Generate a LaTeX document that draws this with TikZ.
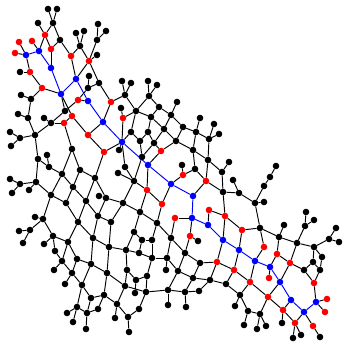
\documentclass[tikz,border=0pt]{standalone}
\pgfdeclarelayer{edges}
\pgfsetlayers{edges,main}
\tikzset{
  kn/.style={circle,fill=black,draw=none,minimum size=6.6pt,inner sep=0pt},
  rn/.style={circle,fill=red,draw=none,minimum size=6.6pt,inner sep=0pt},
  bn/.style={circle,fill=blue,draw=none,minimum size=6.6pt,inner sep=0pt},
  ke/.style={draw=black,line width=0.95pt},
  be/.style={draw=blue,line width=0.95pt}
}
\begin{document}
\begin{tikzpicture}[x=1pt,y=-1pt]
\useasboundingbox (0,0) rectangle (343,345);
% black nodes
\foreach \x/\y in {48/9,57/9,53/23,38/23,60/40,76/33,84/31,80/46,97/40,98/24,106/31,97/55,20/72,89/76,88/88,99/83,31/99,21/95,18/114,65/111,28/118,44/118,51/123,35/135,20/138,10/132,11/146,
122/81,131/83,125/95,148/81,157/85,149/96,136/111,159/107,177/102,171/115,151/117,121/108,164/129,183/127,131/132,148/132,200/118,214/124,219/134,196/132,209/139,140/141,176/141,154/143,193/150,142/157,119/150,208/160,229/162,125/167,195/169,182/165,222/172,118/173,134/181,
38/159,47/155,49/167,72/149,80/170,62/174,95/178,36/182,20/184,10/179,12/193,29/190,73/187,51/195,99/196,106/198,66/203,86/201,98/216,111/222,78/222,43/219,35/217,30/230,19/231,23/243,53/236,44/244,68/242,55/251,62/261,54/270,72/273,65/284,77/259,91/264,82/285,107/273,93/238,109/247,126/250,139/253,142/240,152/240,134/232,152/258,127/270,136/280,147/276,125/286,135/293,146/292,91/298,104/295,117/304,77/307,67/313,98/309,87/313,73/322,86/329,115/318,128/317,139/309,129/332,
123/203,140/212,157/223,198/241,171/238,185/253,200/263,167/258,166/270,178/271,193/278,210/280,226/284,168/290,185/292,199/291,168/305,186/307,
223/192,233/180,239/193,255/203,264/186,270/177,276/166,264/202,260/228,306/212,314/220,305/226,284/225,336/228,329/239,339/242,279/237,297/243,314/247,322/257,313/262,304/270,320/270,240/295,235/306,248/311,260/314,282/323,244/325,257/329,266/326,301/335,293/338,320/337}
  \node[kn] (n\x x\y) at (\x,\y) {};
% red nodes
\foreach \x/\y in {45/35,51/49,32/41,19/42,15/53,71/56,89/61,30/72,42/88,111/102,78/100,72/116,64/123,88/135,104/152,123/118,
161/151,183/175,206/181,147/190,162/204,209/210,225/216,175/218,190/236,217/262,234/270,
242/230,264/247,277/254,290/263,269/278,250/282,314/283,268/297,283/310,327/299,325/312,295/323,313/326}
  \node[rn] (n\x x\y) at (\x,\y) {};
% blue nodes
\foreach \x/\y in {39/51,26/55,51/68,61/94,76/79,88/101,103/122,122/142,148/165,171/184,193/196,192/218,208/225,223/240,239/250,255/261,270/267,280/282,291/300,304/312,316/302}
  \node[bn] (n\x x\y) at (\x,\y) {};
\begin{pgfonlayer}{edges}
\foreach \a/\b in {48x9/53x23,57x9/53x23,38x23/45x35,53x23/45x35,53x23/60x40,45x35/51x49,45x35/39x51,60x40/51x49,60x40/71x56,32x41/39x51,19x42/26x55,15x53/26x55,51x49/51x68,26x55/30x72,30x72/20x72,30x72/42x88,42x88/61x94,42x88/31x99,31x99/21x95,31x99/28x118,18x114/28x118,76x79/71x56,76x79/89x61,71x56/80x46,80x46/76x33,80x46/84x31,80x46/89x61,89x61/97x40,97x40/98x24,97x40/106x31,89x61/97x55,89x61/99x83,89x76/88x88,88x88/99x83,88x88/78x100,78x100/88x101,99x83/111x102,111x102/103x122,111x102/125x95,61x94/65x111,61x94/72x116,78x100/65x111,64x123/72x116,72x116/88x135,103x122/88x135,88x135/104x152,104x152/122x142,119x150/122x142,
28x118/35x135,35x135/20x138,20x138/10x132,20x138/11x146,35x135/51x123,51x123/44x118,51x123/64x123,51x123/65x111,64x123/72x149,72x149/62x174,72x149/80x170,104x152/95x178,80x170/73x187,80x170/95x178,62x174/49x167,49x167/47x155,49x167/38x159,38x159/35x135,38x159/36x182,36x182/20x184,20x184/10x179,20x184/12x193,36x182/29x190,36x182/51x195,62x174/51x195,62x174/73x187,95x178/86x201,73x187/66x203,73x187/86x201,51x195/66x203,66x203/78x222,86x201/78x222,86x201/98x216,99x196/106x198,106x198/98x216,95x178/106x198,106x198/123x203,98x216/111x222,98x216/93x238,51x195/43x219,43x219/35x217,43x219/30x230,30x230/19x231,30x230/23x243,43x219/53x236,53x236/44x244,53x236/68x242,53x236/55x251,55x251/62x261,68x242/62x261,68x242/78x222,68x242/77x259,62x261/54x270,62x261/72x273,77x259/72x273,77x259/91x264,72x273/82x285,72x273/65x284,91x264/93x238,91x264/82x285,91x264/107x273,93x238/109x247,93x238/78x222,109x247/111x222,109x247/126x250,109x247/107x273,107x273/125x286,107x273/104x295,82x285/91x298,82x285/77x307,91x298/104x295,91x298/87x313,104x295/98x309,104x295/117x304,98x309/87x313,77x307/87x313,77x307/67x313,77x307/73x322,87x313/86x329,117x304/115x318,117x304/128x317,128x317/129x332,128x317/139x309,139x309/146x292,117x304/125x286,125x286/127x270,125x286/146x292,127x270/136x280,136x280/135x293,136x280/147x276,147x276/146x292,147x276/152x258,126x250/139x253,139x253/152x258,126x250/134x232,134x232/142x240,142x240/152x240,142x240/139x253,152x240/152x258,126x250/127x270,152x258/167x258,167x258/166x270,167x258/178x271,167x258/171x238,146x292/168x290,168x290/178x271,168x290/168x305,168x290/185x292,185x292/186x307,185x292/193x278,185x292/199x291,199x291/210x280,193x278/178x271,193x278/210x280,193x278/200x263,171x238/185x253,185x253/178x271,185x253/200x263,200x263/217x262,217x262/210x280,217x262/234x270,210x280/226x284,226x284/234x270,226x284/240x295,
122x81/125x95,131x83/125x95,125x95/136x111,136x111/149x96,149x96/148x81,149x96/157x85,149x96/159x107,159x107/171x115,171x115/177x102,136x111/123x118,136x111/151x117,159x107/151x117,136x111/131x132,151x117/164x129,151x117/148x132,171x115/164x129,171x115/183x127,183x127/176x141,164x129/176x141,164x129/154x143,148x132/154x143,148x132/140x141,131x132/140x141,131x132/122x142,140x141/142x157,154x143/142x157,154x143/161x151,176x141/161x151,176x141/193x150,183x127/196x132,196x132/200x118,196x132/209x139,209x139/214x124,209x139/219x134,196x132/193x150,209x139/208x160,193x150/208x160,208x160/222x172,195x169/206x181,222x172/229x162,222x172/223x192,208x160/206x181,122x142/123x118,121x108/123x118,122x142/125x167,142x157/134x181,161x151/148x165,148x165/147x190,182x165/183x175,183x175/171x184,183x175/195x169,195x169/193x150,125x167/134x181,118x173/134x181,134x181/147x190,134x181/123x203,147x190/140x212,147x190/162x204,162x204/171x184,162x204/157x223,193x196/206x181,206x181/223x192,123x203/140x212,123x203/111x222,140x212/157x223,140x212/134x232,157x223/152x240,157x223/171x238,175x218/171x238,175x218/192x218,192x218/190x236,190x236/198x241,190x236/185x253,209x210/225x216,209x210/208x225,225x216/223x240,223x240/217x262,223x192/225x216,
233x180/239x193,223x192/239x193,239x193/255x203,255x203/264x186,264x186/270x177,270x177/276x166,255x203/264x202,255x203/260x228,225x216/242x230,242x230/260x228,260x228/264x247,260x228/279x237,279x237/284x225,279x237/277x254,279x237/297x243,297x243/305x226,305x226/306x212,305x226/314x220,297x243/314x247,314x247/329x239,329x239/336x228,329x239/339x242,314x247/322x257,314x247/313x262,322x257/320x270,313x262/320x270,313x262/304x270,297x243/290x263,290x263/304x270,290x263/277x254,277x254/270x267,264x247/255x261,239x250/242x230,239x250/234x270,255x261/250x282,270x267/269x278,290x263/280x282,304x270/314x283,320x270/314x283,314x283/316x302,234x270/250x282,250x282/268x297,250x282/240x295,240x295/235x306,240x295/248x311,248x311/244x325,248x311/260x314,268x297/260x314,260x314/257x329,260x314/266x326,268x297/280x282,268x297/283x310,283x310/291x300,283x310/282x323,283x310/295x323,304x312/295x323,304x312/313x326,316x302/327x299,316x302/325x312,295x323/301x335,295x323/293x338,313x326/320x337}
  \draw[ke] (n\a) -- (n\b);
\foreach \a/\b in {26x55/39x51,39x51/51x68,51x68/61x94,61x94/76x79,76x79/88x101,88x101/103x122,103x122/122x142,122x142/148x165,148x165/171x184,171x184/193x196,193x196/192x218,192x218/208x225,208x225/223x240,223x240/239x250,239x250/255x261,255x261/270x267,270x267/280x282,280x282/291x300,291x300/304x312,304x312/316x302}
  \draw[be] (n\a) -- (n\b);
\end{pgfonlayer}
\end{tikzpicture}
\end{document}
